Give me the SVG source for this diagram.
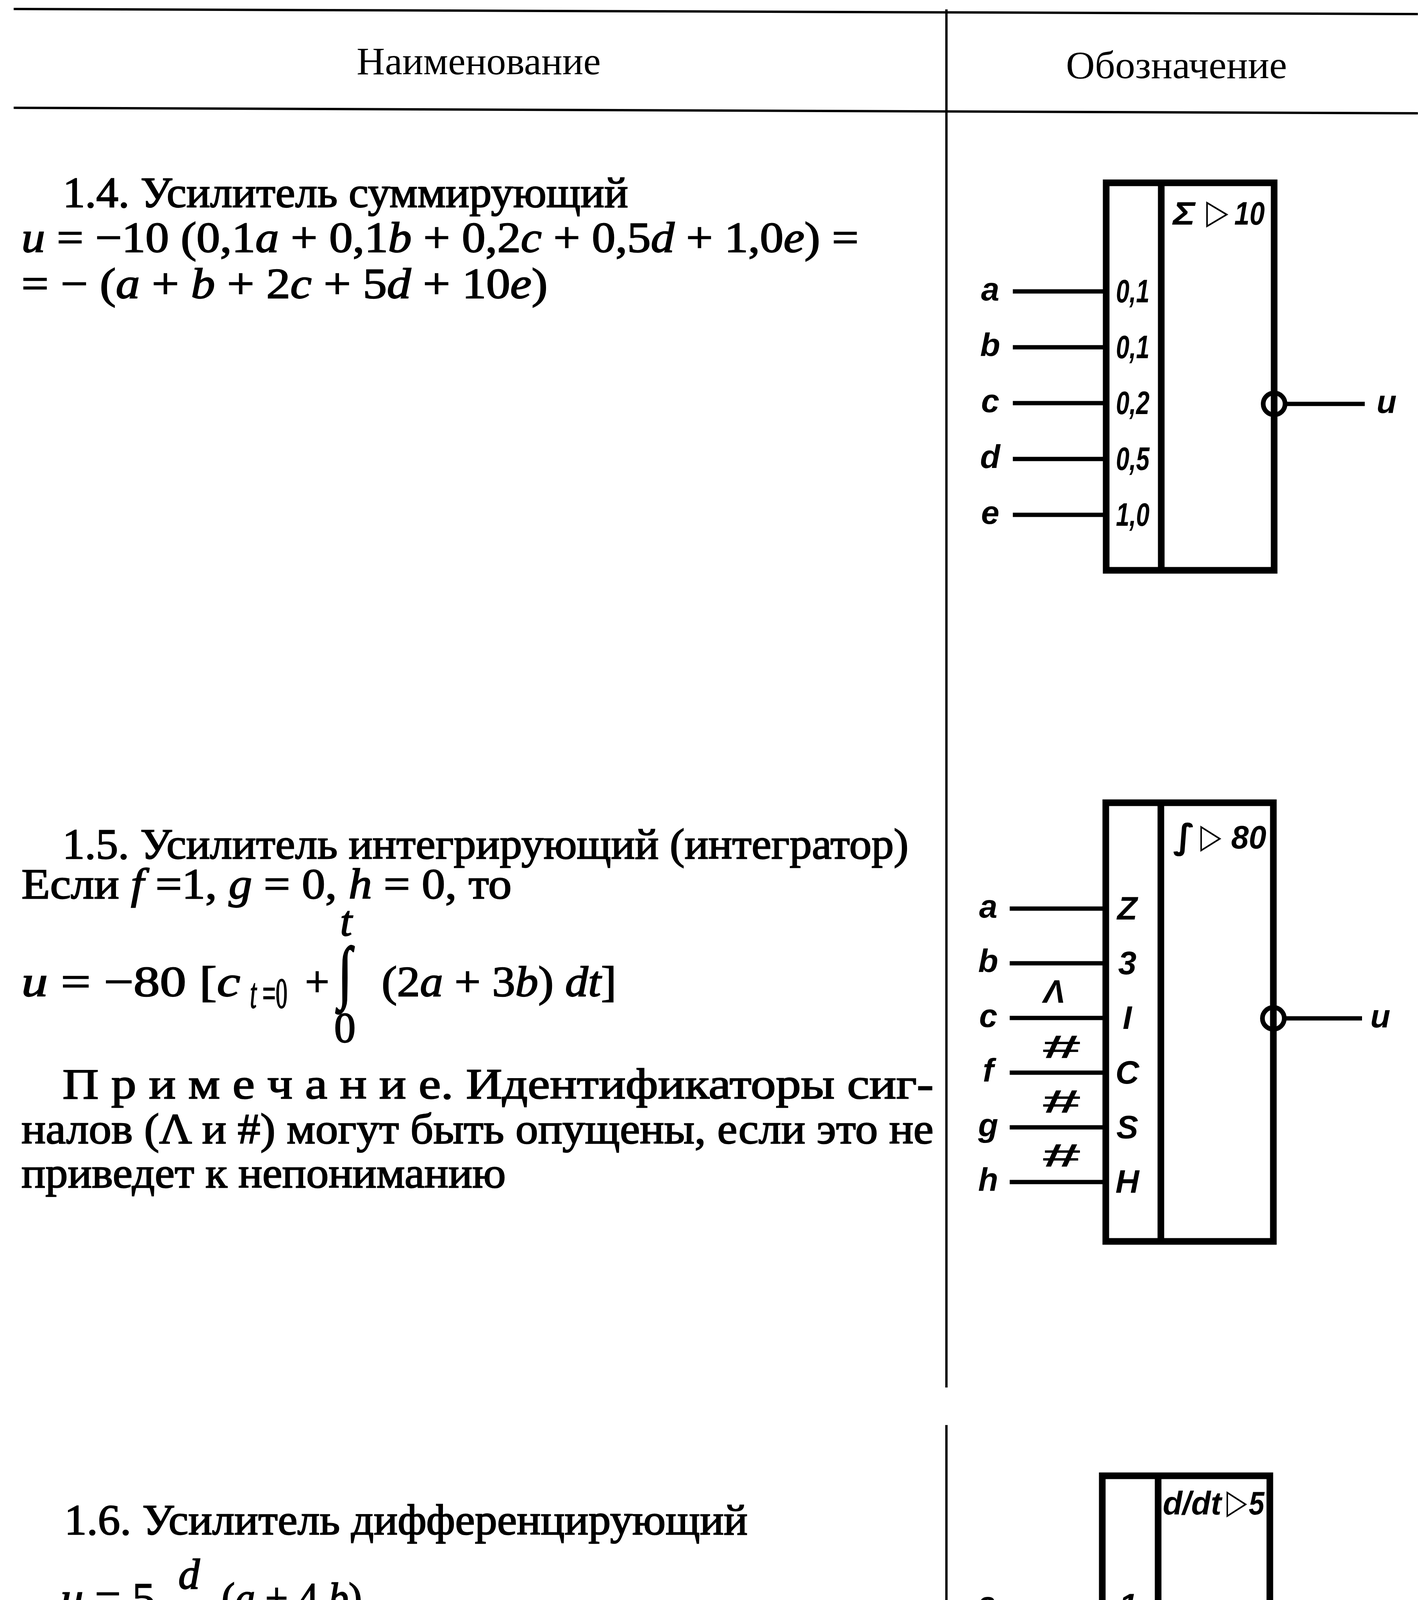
<svg xmlns="http://www.w3.org/2000/svg" width="3638" height="5207" viewBox="0 0 3638 5207">
<style>
.t{font-family:"Liberation Serif","Times New Roman",serif;font-size:110px;fill:#000;stroke:#000;stroke-width:2.5px}
.h{font-family:"Liberation Serif","Times New Roman",serif;font-size:100px;fill:#000}
.i{font-style:italic}
.lab{font-family:"Liberation Sans",Arial,sans-serif;font-style:italic;font-weight:bold;font-size:84px;fill:#000}
.sym{font-family:"DejaVu Sans",sans-serif;font-weight:bold;font-size:88px;fill:#000}
.box{fill:none;stroke:#000;stroke-width:17}
.rule{fill:none;stroke:#000;stroke-width:6}
.w{fill:none;stroke:#000;stroke-width:11;stroke-linecap:butt}
.inv{fill:none;stroke:#000;stroke-width:12}
</style>
<rect x="0" y="0" width="3638" height="5207" fill="#fff"/>
<g id="table">
<line class="rule" x1="35" y1="23" x2="3630" y2="36"/>
<line class="rule" x1="35" y1="276" x2="3630" y2="290"/>
<line class="rule" x1="2423" y1="24" x2="2423" y2="3552"/>
<line class="rule" x1="2423" y1="3648" x2="2423" y2="5207"/>
<text class="h" x="913" y="190" textLength="625" lengthAdjust="spacingAndGlyphs">Наименование</text>
<text class="h" x="2729" y="200" textLength="566" lengthAdjust="spacingAndGlyphs">Обозначение</text>
</g>
<g id="text-1-4">
<text class="t" x="161" y="530" textLength="1447" lengthAdjust="spacingAndGlyphs">1.4.  Усилитель суммирующий</text>
<text class="t" x="55" y="645" textLength="2143" lengthAdjust="spacingAndGlyphs"><tspan class="i">u</tspan> = −10 (0,1<tspan class="i">a</tspan> + 0,1<tspan class="i">b</tspan> + 0,2<tspan class="i">c</tspan> + 0,5<tspan class="i">d</tspan> + 1,0<tspan class="i">e</tspan>) =</text>
<text class="t" x="55" y="763" textLength="1347" lengthAdjust="spacingAndGlyphs">= − (<tspan class="i">a</tspan> + <tspan class="i">b</tspan> + 2<tspan class="i">c</tspan> + 5<tspan class="i">d</tspan> + 10<tspan class="i">e</tspan>)</text>
</g>
<g id="text-1-5">
<text class="t" x="160" y="2198" textLength="2166" lengthAdjust="spacingAndGlyphs">1.5.  Усилитель интегрирующий (интегратор)</text>
<text class="t" x="55" y="2300" textLength="1255" lengthAdjust="spacingAndGlyphs">Если <tspan class="i">f</tspan> =1, <tspan class="i">g</tspan> = 0, <tspan class="i">h</tspan> = 0, то</text>
<text class="t i" x="886" y="2395" font-size="64" text-anchor="middle">t</text>
<text class="t" x="55" y="2550" textLength="560" lengthAdjust="spacingAndGlyphs"><tspan class="i">u</tspan> = −80 [<tspan class="i">c</tspan></text>
<text class="t" x="640" y="2580" font-size="68" textLength="96" lengthAdjust="spacingAndGlyphs"><tspan class="i">t</tspan> =0</text>
<text class="t" x="781" y="2550">+</text>
<text class="t" transform="translate(866,2548) scale(1.15,1.62)" x="0" y="0" font-size="165">∫</text>
<text class="t" x="883" y="2668" font-size="80" text-anchor="middle">0</text>
<text class="t" x="977" y="2550" textLength="601" lengthAdjust="spacingAndGlyphs">(2<tspan class="i">a</tspan> + 3<tspan class="i">b</tspan>) <tspan class="i">dt</tspan>]</text>
<text class="t" x="160" y="2812" textLength="2230" lengthAdjust="spacingAndGlyphs">П р и м е ч а н и е. Идентификаторы сиг-</text>
<text class="t" x="55" y="2927" textLength="2335" lengthAdjust="spacingAndGlyphs">налов (Λ и #) могут быть опущены, если это не</text>
<text class="t" x="55" y="3040" textLength="1240" lengthAdjust="spacingAndGlyphs">приведет к непониманию</text>
</g>
<g id="text-1-6">
<text class="t" x="165" y="3928" textLength="1749" lengthAdjust="spacingAndGlyphs">1.6.  Усилитель дифференцирующий</text>
<text class="t" x="155" y="4128" textLength="242" lengthAdjust="spacingAndGlyphs"><tspan class="i">u</tspan> = 5</text>
<text class="t i" x="484" y="4067" text-anchor="middle">d</text>
<line x1="437" y1="4103" x2="528" y2="4103" stroke="#000" stroke-width="7"/>
<text class="t i" x="484" y="4185" text-anchor="middle">dt</text>
<text class="t" x="567" y="4128" textLength="360" lengthAdjust="spacingAndGlyphs">(<tspan class="i">a</tspan> + 4 <tspan class="i">b</tspan>)</text>
</g>
<g id="connectors">
<line class="w" x1="2593" y1="746" x2="2832" y2="746"/>
<line class="w" x1="2593" y1="889" x2="2832" y2="889"/>
<line class="w" x1="2593" y1="1032" x2="2832" y2="1032"/>
<line class="w" x1="2593" y1="1175" x2="2832" y2="1175"/>
<line class="w" x1="2593" y1="1318" x2="2832" y2="1318"/>
<line class="w" x1="3290" y1="1034" x2="3494" y2="1034"/>
<line class="w" x1="2585" y1="2326" x2="2831" y2="2326"/>
<line class="w" x1="2585" y1="2466" x2="2831" y2="2466"/>
<line class="w" x1="2585" y1="2606" x2="2831" y2="2606"/>
<line class="w" x1="2585" y1="2746" x2="2831" y2="2746"/>
<line class="w" x1="2585" y1="2886" x2="2831" y2="2886"/>
<line class="w" x1="2585" y1="3026" x2="2831" y2="3026"/>
<line class="w" x1="3288" y1="2607" x2="3487" y2="2607"/>
<line class="w" x1="2585" y1="4110" x2="2822" y2="4110"/>
<line class="w" x1="2581" y1="4400" x2="2794" y2="4400"/>
<line class="w" x1="3251" y1="4250" x2="3479" y2="4250"/>
</g>
<g id="block-summing">
<rect class="box" x="2832" y="468" width="430" height="992"/>
<line class="box" x1="2973" y1="468" x2="2973" y2="1460"/>
<text class="lab" x="3003" y="575" textLength="57" lengthAdjust="spacingAndGlyphs">Σ</text>
<text class="sym" x="3088" y="572" textLength="57" lengthAdjust="spacingAndGlyphs">▷</text>
<text class="lab" x="3160" y="575" textLength="78" lengthAdjust="spacingAndGlyphs">10</text>
<text class="lab" x="2857" y="774" textLength="86" lengthAdjust="spacingAndGlyphs">0,1</text>
<text class="lab" x="2857" y="917" textLength="86" lengthAdjust="spacingAndGlyphs">0,1</text>
<text class="lab" x="2857" y="1060" textLength="86" lengthAdjust="spacingAndGlyphs">0,2</text>
<text class="lab" x="2857" y="1203" textLength="86" lengthAdjust="spacingAndGlyphs">0,5</text>
<text class="lab" x="2857" y="1346" textLength="86" lengthAdjust="spacingAndGlyphs">1,0</text>
<g text-anchor="middle">
<text class="lab" x="2535" y="769">a</text>
<text class="lab" x="2535" y="912">b</text>
<text class="lab" x="2535" y="1055">c</text>
<text class="lab" x="2535" y="1198">d</text>
<text class="lab" x="2535" y="1341">e</text>
<text class="lab" x="3550" y="1057">u</text>
</g>
<circle class="inv" cx="3262" cy="1034" r="28"/>
</g>
<g id="block-integrator">
<rect class="box" x="2831" y="2055" width="429" height="1123"/>
<line class="box" x1="2972" y1="2055" x2="2972" y2="3178"/>
<text class="sym" x="3003" y="2172" font-size="100" textLength="57" lengthAdjust="spacingAndGlyphs">∫</text>
<text class="sym" x="3073" y="2170" textLength="54" lengthAdjust="spacingAndGlyphs">▷</text>
<text class="lab" x="3152" y="2172" textLength="90" lengthAdjust="spacingAndGlyphs">80</text>
<g text-anchor="middle">
<text class="lab" x="2886" y="2354">Z</text>
<text class="lab" x="2886" y="2494">3</text>
<text class="lab" x="2886" y="2634">I</text>
<text class="lab" x="2886" y="2774">C</text>
<text class="lab" x="2886" y="2914">S</text>
<text class="lab" x="2886" y="3054">H</text>
<text class="lab" x="2530" y="2349">a</text>
<text class="lab" x="2530" y="2489">b</text>
<text class="lab" x="2530" y="2629">c</text>
<text class="lab" x="2530" y="2769">f</text>
<text class="lab" x="2530" y="2909">g</text>
<text class="lab" x="2530" y="3049">h</text>
<text class="lab" x="2699" y="2567">Λ</text>
<text class="lab" x="3534" y="2630">u</text>
</g>
<text class="lab" x="2665" y="2709" font-size="105" textLength="100" lengthAdjust="spacingAndGlyphs">#</text>
<text class="lab" x="2665" y="2849" font-size="105" textLength="100" lengthAdjust="spacingAndGlyphs">#</text>
<text class="lab" x="2665" y="2987" font-size="105" textLength="100" lengthAdjust="spacingAndGlyphs">#</text>
<circle class="inv" cx="3260" cy="2607" r="28"/>
</g>
<g id="block-differentiator">
<rect class="box" x="2822" y="3778" width="429" height="752"/>
<line class="box" x1="2965" y1="3778" x2="2965" y2="4530"/>
<text class="lab" x="2977" y="3877" textLength="150" lengthAdjust="spacingAndGlyphs">d/dt</text>
<text class="sym" x="3140" y="3874" textLength="53" lengthAdjust="spacingAndGlyphs">▷</text>
<text class="lab" x="3197" y="3877" textLength="40" lengthAdjust="spacingAndGlyphs">5</text>
<g text-anchor="middle">
<text class="lab" x="2888" y="4138">1</text>
<text class="lab" x="2902" y="4428">4</text>
<text class="lab" x="2526" y="4133">a</text>
<text class="lab" x="2526" y="4423">b</text>
<text class="lab" x="3534" y="4273">u</text>
</g>
<circle class="inv" cx="2822" cy="4400" r="28"/>
</g>
</svg>
